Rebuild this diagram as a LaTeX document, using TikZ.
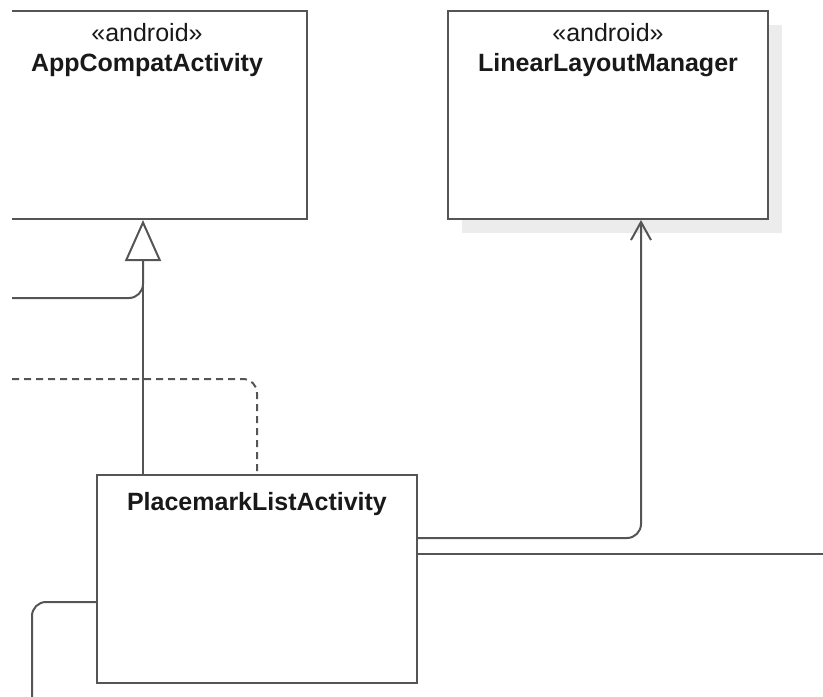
\documentclass[tikz,border=0pt]{standalone}
\usepackage{fontspec}
\setmainfont{Liberation Sans}
\usetikzlibrary{positioning, arrows.meta, calc, shadows}
\definecolor{umlline}{RGB}{85,85,85}
\definecolor{umltext}{RGB}{25,25,25}
\definecolor{umlshadow}{RGB}{236,236,236}

\begin{document}
\begin{tikzpicture}[x=1pt, y=1pt,
    class/.style={rectangle, draw=umlline, line width=2pt, fill=white, minimum width=320pt, minimum height=208pt, inner sep=0pt},
    title/.style={inner sep=0pt, align=center, text=umltext, font=\fontsize{25}{30}\selectfont},
    wire/.style={draw=umlline, line width=2pt, rounded corners=14pt},
    gen/.style={-{Triangle[open, length=41pt, width=36pt]}},
    assoc/.style={-{Straight Barb[length=18pt, width=20pt]}},
    dep/.style={dash pattern=on 7pt off 5pt}
]
    \useasboundingbox (0,0) rectangle (823,-697);
    \clip (12,0) rectangle (823,-697);

    \node[class] (acts) at (147,-115) {};
    \node[class, right=139pt of acts, drop shadow={shadow xshift=14pt, shadow yshift=-14pt, fill=umlshadow, opacity=1}] (llm) {};
    \node[class] (pla) at (257,-579) {};

    \node[title, below=13pt of acts.north] (actsname) {«android»\\\textbf{AppCompatActivity}};
    \node[title, below=13pt of llm.north] (llmname) {«android»\\\textbf{LinearLayoutManager}};
    \node[title, below=18pt of pla.north] (planame) {\textbf{PlacemarkListActivity}};

    \coordinate (genfoot) at ($(pla.north west)+(47,0)$);
    \coordinate (genhead) at (genfoot |- acts.south);
    \coordinate (genback) at ($(genhead)+(0,-41)$);
    \coordinate (llmfoot) at ($(llm.south west)+(194,0)$);
    \coordinate (plaout) at ($(pla.north east)+(0,-64)$);
    \coordinate (plaright) at ($(pla.north east)+(0,-80)$);
    \coordinate (plaleft) at ($(pla.north west)+(0,-128)$);
    \coordinate (offA) at (0,-298);
    \coordinate (offB) at (0,-379);
    \coordinate (offC) at ($(plaright)+(430,0)$);
    \coordinate (offD) at (32,-710);

    \draw[wire, gen] (genfoot) -- (genhead);
    \draw[wire] (offA) -| (genback);
    \draw[wire, dep] (offB) -| (pla.north);
    \draw[wire, assoc] (plaout) -| (llmfoot);
    \draw[wire] (plaright) -- (offC);
    \draw[wire] (plaleft) -| (offD);
\end{tikzpicture}
\end{document}
